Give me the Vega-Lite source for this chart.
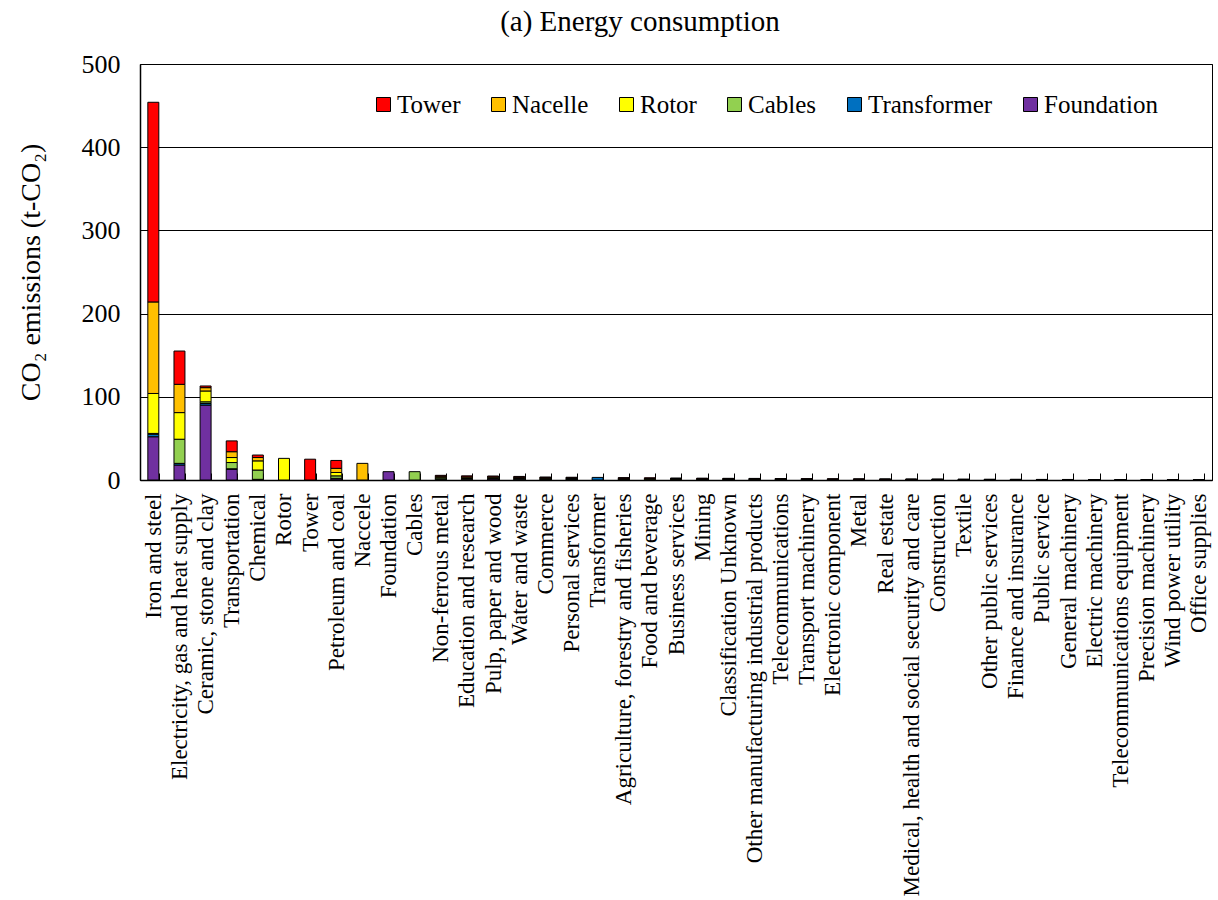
{
  "$schema": "https://vega.github.io/schema/vega-lite/v6.json",
  "autosize": {"type": "none"},
  "padding": {"left": 140, "top": 64, "right": 6, "bottom": 420},
  "width": 1072,
  "height": 416,
  "background": "white",
  "title": {
    "text": "(a) Energy consumption",
    "font": "Liberation Serif",
    "fontSize": 29,
    "fontWeight": "normal",
    "color": "black",
    "offset": 14,
    "dx": -36
  },
  "data": {
    "values": [
      {"sector": "Iron and steel", "part": "Foundation", "t": 52},
      {"sector": "Iron and steel", "part": "Transformer", "t": 3},
      {"sector": "Iron and steel", "part": "Cables", "t": 1},
      {"sector": "Iron and steel", "part": "Rotor", "t": 48},
      {"sector": "Iron and steel", "part": "Nacelle", "t": 110},
      {"sector": "Iron and steel", "part": "Tower", "t": 240},

      {"sector": "Electricity, gas and heat supply", "part": "Foundation", "t": 18},
      {"sector": "Electricity, gas and heat supply", "part": "Transformer", "t": 2},
      {"sector": "Electricity, gas and heat supply", "part": "Cables", "t": 29},
      {"sector": "Electricity, gas and heat supply", "part": "Rotor", "t": 32},
      {"sector": "Electricity, gas and heat supply", "part": "Nacelle", "t": 34},
      {"sector": "Electricity, gas and heat supply", "part": "Tower", "t": 40},

      {"sector": "Ceramic, stone and clay", "part": "Foundation", "t": 90},
      {"sector": "Ceramic, stone and clay", "part": "Transformer", "t": 2},
      {"sector": "Ceramic, stone and clay", "part": "Cables", "t": 2},
      {"sector": "Ceramic, stone and clay", "part": "Rotor", "t": 13},
      {"sector": "Ceramic, stone and clay", "part": "Nacelle", "t": 4},
      {"sector": "Ceramic, stone and clay", "part": "Tower", "t": 2},

      {"sector": "Transportation", "part": "Foundation", "t": 13},
      {"sector": "Transportation", "part": "Transformer", "t": 0.5},
      {"sector": "Transportation", "part": "Cables", "t": 7.5},
      {"sector": "Transportation", "part": "Rotor", "t": 6},
      {"sector": "Transportation", "part": "Nacelle", "t": 7},
      {"sector": "Transportation", "part": "Tower", "t": 13},

      {"sector": "Chemical", "part": "Foundation", "t": 0.5},
      {"sector": "Chemical", "part": "Transformer", "t": 0.3},
      {"sector": "Chemical", "part": "Cables", "t": 11.2},
      {"sector": "Chemical", "part": "Rotor", "t": 11},
      {"sector": "Chemical", "part": "Nacelle", "t": 4},
      {"sector": "Chemical", "part": "Tower", "t": 3},

      {"sector": "Rotor", "part": "Rotor", "t": 26},

      {"sector": "Tower", "part": "Tower", "t": 25},

      {"sector": "Petroleum and coal", "part": "Foundation", "t": 1.5},
      {"sector": "Petroleum and coal", "part": "Transformer", "t": 0.5},
      {"sector": "Petroleum and coal", "part": "Cables", "t": 3},
      {"sector": "Petroleum and coal", "part": "Rotor", "t": 4},
      {"sector": "Petroleum and coal", "part": "Nacelle", "t": 5},
      {"sector": "Petroleum and coal", "part": "Tower", "t": 9.5},

      {"sector": "Naccele", "part": "Nacelle", "t": 20},

      {"sector": "Foundation", "part": "Foundation", "t": 10},

      {"sector": "Cables", "part": "Cables", "t": 10},

      {"sector": "Non-ferrous metal", "part": "Foundation", "t": 0.6},
      {"sector": "Non-ferrous metal", "part": "Transformer", "t": 0.2},
      {"sector": "Non-ferrous metal", "part": "Cables", "t": 1.6},
      {"sector": "Non-ferrous metal", "part": "Rotor", "t": 1.0},
      {"sector": "Non-ferrous metal", "part": "Nacelle", "t": 1.2},
      {"sector": "Non-ferrous metal", "part": "Tower", "t": 1.0},

      {"sector": "Education and research", "part": "Foundation", "t": 1.0},
      {"sector": "Education and research", "part": "Cables", "t": 0.8},
      {"sector": "Education and research", "part": "Rotor", "t": 0.8},
      {"sector": "Education and research", "part": "Nacelle", "t": 1.2},
      {"sector": "Education and research", "part": "Tower", "t": 1.2},

      {"sector": "Pulp, paper and wood", "part": "Foundation", "t": 1.2},
      {"sector": "Pulp, paper and wood", "part": "Cables", "t": 0.7},
      {"sector": "Pulp, paper and wood", "part": "Rotor", "t": 0.8},
      {"sector": "Pulp, paper and wood", "part": "Nacelle", "t": 1.1},
      {"sector": "Pulp, paper and wood", "part": "Tower", "t": 1.0},

      {"sector": "Water and waste", "part": "Foundation", "t": 1.0},
      {"sector": "Water and waste", "part": "Cables", "t": 0.7},
      {"sector": "Water and waste", "part": "Rotor", "t": 0.7},
      {"sector": "Water and waste", "part": "Nacelle", "t": 0.9},
      {"sector": "Water and waste", "part": "Tower", "t": 1.0},

      {"sector": "Commerce", "part": "Foundation", "t": 0.8},
      {"sector": "Commerce", "part": "Cables", "t": 0.6},
      {"sector": "Commerce", "part": "Rotor", "t": 0.6},
      {"sector": "Commerce", "part": "Nacelle", "t": 0.8},
      {"sector": "Commerce", "part": "Tower", "t": 0.8},

      {"sector": "Personal services", "part": "Foundation", "t": 0.7},
      {"sector": "Personal services", "part": "Cables", "t": 0.5},
      {"sector": "Personal services", "part": "Rotor", "t": 0.6},
      {"sector": "Personal services", "part": "Nacelle", "t": 0.8},
      {"sector": "Personal services", "part": "Tower", "t": 0.7},

      {"sector": "Transformer", "part": "Transformer", "t": 3.1},

      {"sector": "Agriculture, forestry and fisheries", "part": "Foundation", "t": 0.7},
      {"sector": "Agriculture, forestry and fisheries", "part": "Cables", "t": 0.4},
      {"sector": "Agriculture, forestry and fisheries", "part": "Rotor", "t": 0.5},
      {"sector": "Agriculture, forestry and fisheries", "part": "Nacelle", "t": 0.6},
      {"sector": "Agriculture, forestry and fisheries", "part": "Tower", "t": 0.6},

      {"sector": "Food and beverage", "part": "Foundation", "t": 0.6},
      {"sector": "Food and beverage", "part": "Cables", "t": 0.4},
      {"sector": "Food and beverage", "part": "Rotor", "t": 0.5},
      {"sector": "Food and beverage", "part": "Nacelle", "t": 0.5},
      {"sector": "Food and beverage", "part": "Tower", "t": 0.6},

      {"sector": "Business services", "part": "Foundation", "t": 0.5},
      {"sector": "Business services", "part": "Cables", "t": 0.4},
      {"sector": "Business services", "part": "Rotor", "t": 0.4},
      {"sector": "Business services", "part": "Nacelle", "t": 0.5},
      {"sector": "Business services", "part": "Tower", "t": 0.6},

      {"sector": "Mining", "part": "Foundation", "t": 0.6},
      {"sector": "Mining", "part": "Cables", "t": 0.3},
      {"sector": "Mining", "part": "Rotor", "t": 0.3},
      {"sector": "Mining", "part": "Nacelle", "t": 0.4},
      {"sector": "Mining", "part": "Tower", "t": 0.6},

      {"sector": "Classification Unknown", "part": "Foundation", "t": 0.4},
      {"sector": "Classification Unknown", "part": "Cables", "t": 0.4},
      {"sector": "Classification Unknown", "part": "Rotor", "t": 0.4},
      {"sector": "Classification Unknown", "part": "Nacelle", "t": 0.4},
      {"sector": "Classification Unknown", "part": "Tower", "t": 0.4},

      {"sector": "Other manufacturing industrial products", "part": "Foundation", "t": 0.3},
      {"sector": "Other manufacturing industrial products", "part": "Cables", "t": 0.4},
      {"sector": "Other manufacturing industrial products", "part": "Rotor", "t": 0.4},
      {"sector": "Other manufacturing industrial products", "part": "Nacelle", "t": 0.4},
      {"sector": "Other manufacturing industrial products", "part": "Tower", "t": 0.4},

      {"sector": "Telecommunications", "part": "Foundation", "t": 0.4},
      {"sector": "Telecommunications", "part": "Cables", "t": 0.3},
      {"sector": "Telecommunications", "part": "Rotor", "t": 0.3},
      {"sector": "Telecommunications", "part": "Nacelle", "t": 0.3},
      {"sector": "Telecommunications", "part": "Tower", "t": 0.4},

      {"sector": "Transport machinery", "part": "Foundation", "t": 0.2},
      {"sector": "Transport machinery", "part": "Cables", "t": 0.2},
      {"sector": "Transport machinery", "part": "Rotor", "t": 0.3},
      {"sector": "Transport machinery", "part": "Nacelle", "t": 0.5},
      {"sector": "Transport machinery", "part": "Tower", "t": 0.4},

      {"sector": "Electronic component", "part": "Foundation", "t": 0.1},
      {"sector": "Electronic component", "part": "Cables", "t": 0.3},
      {"sector": "Electronic component", "part": "Rotor", "t": 0.3},
      {"sector": "Electronic component", "part": "Nacelle", "t": 0.4},
      {"sector": "Electronic component", "part": "Tower", "t": 0.3},

      {"sector": "Metal", "part": "Foundation", "t": 0.3},
      {"sector": "Metal", "part": "Cables", "t": 0.2},
      {"sector": "Metal", "part": "Rotor", "t": 0.2},
      {"sector": "Metal", "part": "Nacelle", "t": 0.3},
      {"sector": "Metal", "part": "Tower", "t": 0.3},

      {"sector": "Real estate", "part": "Foundation", "t": 0.3},
      {"sector": "Real estate", "part": "Cables", "t": 0.2},
      {"sector": "Real estate", "part": "Rotor", "t": 0.2},
      {"sector": "Real estate", "part": "Nacelle", "t": 0.25},
      {"sector": "Real estate", "part": "Tower", "t": 0.25},

      {"sector": "Medical, health and social security and care", "part": "Foundation", "t": 0.25},
      {"sector": "Medical, health and social security and care", "part": "Cables", "t": 0.2},
      {"sector": "Medical, health and social security and care", "part": "Rotor", "t": 0.2},
      {"sector": "Medical, health and social security and care", "part": "Nacelle", "t": 0.2},
      {"sector": "Medical, health and social security and care", "part": "Tower", "t": 0.25},

      {"sector": "Construction", "part": "Foundation", "t": 0.4},
      {"sector": "Construction", "part": "Cables", "t": 0.1},
      {"sector": "Construction", "part": "Rotor", "t": 0.15},
      {"sector": "Construction", "part": "Nacelle", "t": 0.15},
      {"sector": "Construction", "part": "Tower", "t": 0.2},

      {"sector": "Textile", "part": "Foundation", "t": 0.1},
      {"sector": "Textile", "part": "Cables", "t": 0.2},
      {"sector": "Textile", "part": "Rotor", "t": 0.25},
      {"sector": "Textile", "part": "Nacelle", "t": 0.2},
      {"sector": "Textile", "part": "Tower", "t": 0.15},

      {"sector": "Other public services", "part": "Foundation", "t": 0.2},
      {"sector": "Other public services", "part": "Cables", "t": 0.15},
      {"sector": "Other public services", "part": "Rotor", "t": 0.15},
      {"sector": "Other public services", "part": "Nacelle", "t": 0.15},
      {"sector": "Other public services", "part": "Tower", "t": 0.2},

      {"sector": "Finance and insurance", "part": "Foundation", "t": 0.2},
      {"sector": "Finance and insurance", "part": "Cables", "t": 0.15},
      {"sector": "Finance and insurance", "part": "Rotor", "t": 0.15},
      {"sector": "Finance and insurance", "part": "Nacelle", "t": 0.15},
      {"sector": "Finance and insurance", "part": "Tower", "t": 0.15},

      {"sector": "Public service", "part": "Foundation", "t": 0.2},
      {"sector": "Public service", "part": "Cables", "t": 0.1},
      {"sector": "Public service", "part": "Rotor", "t": 0.1},
      {"sector": "Public service", "part": "Nacelle", "t": 0.15},
      {"sector": "Public service", "part": "Tower", "t": 0.15},

      {"sector": "General machinery", "part": "Foundation", "t": 0.05},
      {"sector": "General machinery", "part": "Cables", "t": 0.1},
      {"sector": "General machinery", "part": "Rotor", "t": 0.15},
      {"sector": "General machinery", "part": "Nacelle", "t": 0.25},
      {"sector": "General machinery", "part": "Tower", "t": 0.1},

      {"sector": "Electric machinery", "part": "Foundation", "t": 0.05},
      {"sector": "Electric machinery", "part": "Cables", "t": 0.15},
      {"sector": "Electric machinery", "part": "Rotor", "t": 0.1},
      {"sector": "Electric machinery", "part": "Nacelle", "t": 0.2},
      {"sector": "Electric machinery", "part": "Tower", "t": 0.1},

      {"sector": "Telecommunications equipment", "part": "Foundation", "t": 0.05},
      {"sector": "Telecommunications equipment", "part": "Cables", "t": 0.15},
      {"sector": "Telecommunications equipment", "part": "Rotor", "t": 0.1},
      {"sector": "Telecommunications equipment", "part": "Nacelle", "t": 0.1},
      {"sector": "Telecommunications equipment", "part": "Tower", "t": 0.1},

      {"sector": "Precision machinery", "part": "Foundation", "t": 0.05},
      {"sector": "Precision machinery", "part": "Cables", "t": 0.05},
      {"sector": "Precision machinery", "part": "Rotor", "t": 0.1},
      {"sector": "Precision machinery", "part": "Nacelle", "t": 0.15},
      {"sector": "Precision machinery", "part": "Tower", "t": 0.05},

      {"sector": "Wind power utility", "part": "Foundation", "t": 0.05},
      {"sector": "Wind power utility", "part": "Nacelle", "t": 0.05},
      {"sector": "Wind power utility", "part": "Tower", "t": 0.05},

      {"sector": "Office supplies", "part": "Foundation", "t": 0.03},
      {"sector": "Office supplies", "part": "Nacelle", "t": 0.04},
      {"sector": "Office supplies", "part": "Tower", "t": 0.03}
    ]
  },
  "transform": [
    {"calculate": "indexof(['Foundation', 'Transformer', 'Cables', 'Rotor', 'Nacelle', 'Tower'], datum.part)", "as": "stackRank"}
  ],
  "mark": {"type": "bar", "stroke": "black", "strokeWidth": 1, "opacity": 1},
  "encoding": {
    "x": {
      "field": "sector",
      "type": "nominal",
      "sort": null,
      "scale": {"paddingInner": 0.58, "paddingOuter": 0.3},
      "axis": {
        "title": null,
        "labelAngle": -90,
        "labelFont": "Liberation Serif",
        "labelFontSize": 23,
        "labelColor": "black",
        "labelPadding": 20,
        "labelLimit": 0,
        "tickBand": "extent",
        "tickSize": -7,
        "tickColor": "black",
        "domainColor": "black",
        "domainWidth": 1.5,
        "grid": false
      }
    },
    "y": {
      "field": "t",
      "type": "quantitative",
      "stack": "zero",
      "scale": {"domain": [0, 500]},
      "axis": {
        "title": "CO₂ emissions (t-CO₂)",
        "titleFont": "Liberation Serif",
        "titleFontSize": 28,
        "titleFontWeight": "normal",
        "titleColor": "black",
        "titlePadding": 36,
        "values": [0, 100, 200, 300, 400, 500],
        "labelFont": "Liberation Serif",
        "labelFontSize": 26,
        "labelColor": "black",
        "labelPadding": 20,
        "ticks": false,
        "grid": true,
        "gridColor": "black",
        "gridWidth": 1,
        "domainColor": "black",
        "domainWidth": 1.5
      }
    },
    "color": {
      "field": "part",
      "type": "nominal",
      "scale": {
        "domain": ["Tower", "Nacelle", "Rotor", "Cables", "Transformer", "Foundation"],
        "range": ["#FF0000", "#FFC000", "#FFFF00", "#92D050", "#0070C0", "#7030A0"]
      },
      "legend": {
        "title": null,
        "orient": "none",
        "legendX": 231,
        "legendY": 28,
        "direction": "horizontal",
        "gridAlign": "none",
        "symbolType": "square",
        "symbolSize": 196,
        "symbolStrokeColor": "black",
        "symbolStrokeWidth": 1,
        "symbolOpacity": 1,
        "labelFont": "Liberation Serif",
        "labelFontSize": 25,
        "labelColor": "black",
        "labelOffset": 1,
        "columnPadding": 25,
        "padding": 0
      }
    },
    "order": {"field": "stackRank", "type": "quantitative", "sort": "ascending"}
  },
  "config": {
    "font": "Liberation Serif",
    "view": {"stroke": "black", "strokeWidth": 1}
  }
}
